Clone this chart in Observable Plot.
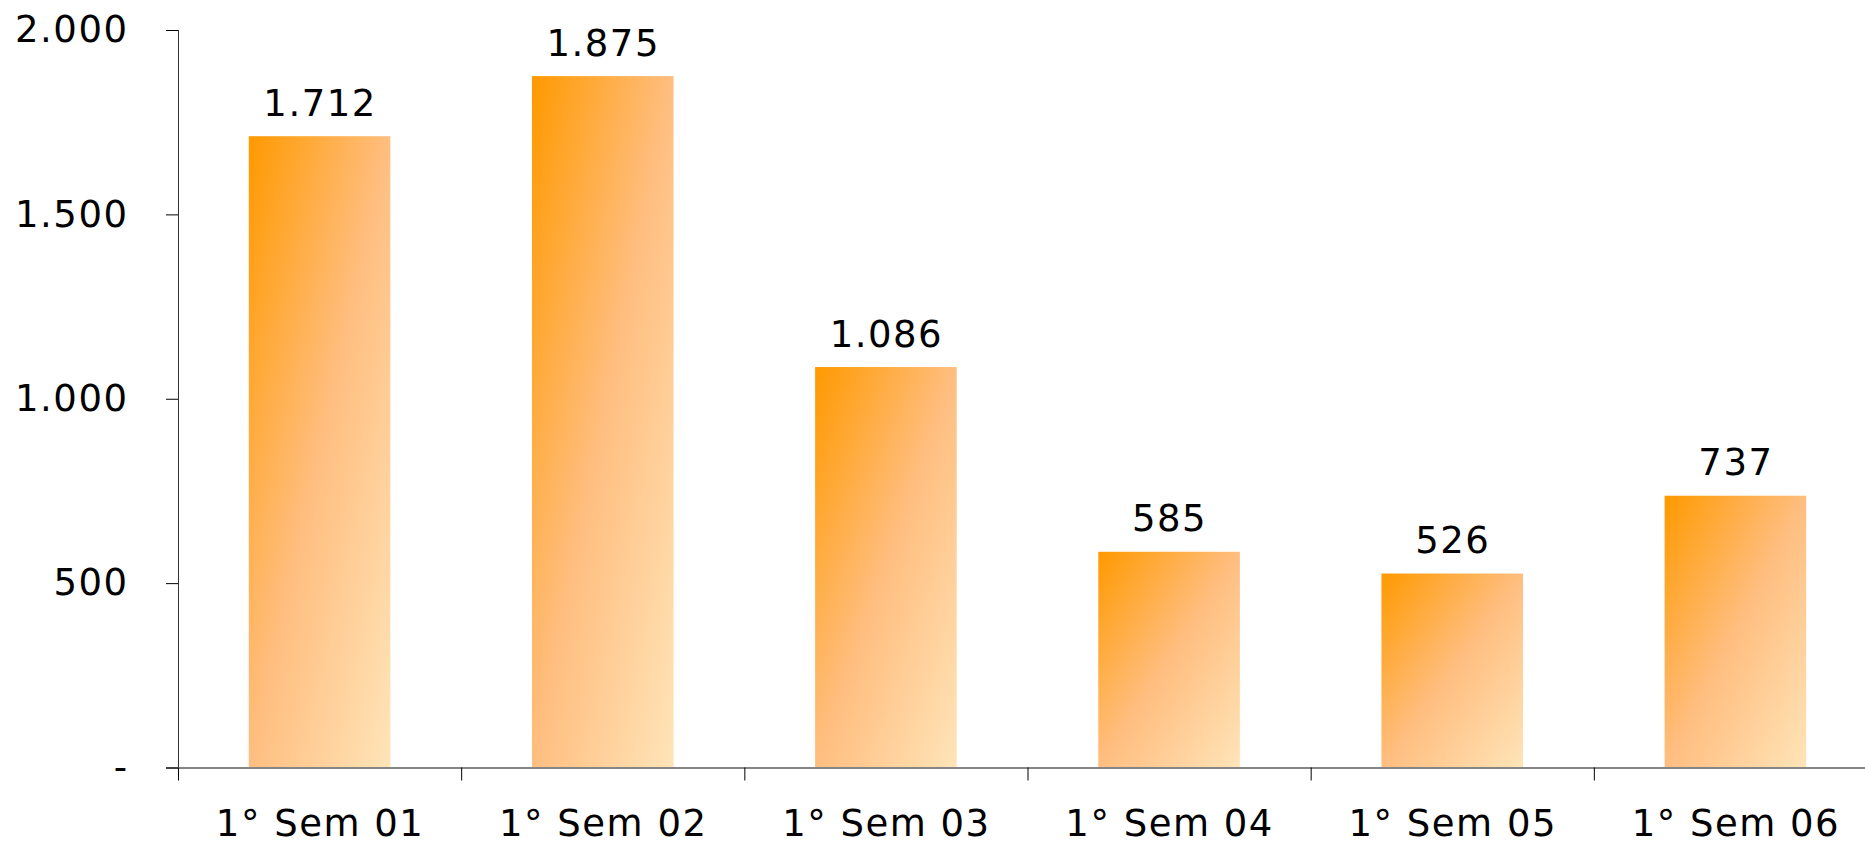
<!DOCTYPE html>
<html>
<head>
<meta charset="utf-8">
<script src="https://cdn.jsdelivr.net/npm/d3@7"></script>
<script src="https://cdn.jsdelivr.net/npm/@observablehq/plot@0.6"></script>
<style>
  html, body { margin: 0; padding: 0; overflow: hidden; background: #fff; }
  svg { display: block; max-width: none !important; }
  svg text { letter-spacing: 1.5px; }
</style>
</head>
<body>
<div id="chart"></div>
<script>
const categories = ["1° Sem 01", "1° Sem 02", "1° Sem 03", "1° Sem 04", "1° Sem 05", "1° Sem 06"];
const values = [1712, 1875, 1086, 585, 526, 737];
const yTicks = [0, 500, 1000, 1500, 2000];

const data = categories.map((c, i) => ({cat: c, value: values[i]}));
const locale = d3.formatLocale({decimal: ",", thousands: ".", grouping: [3], currency: ["", ""]});
const fmt = locale.format(",d");

const W = 1880, H = 845;
const mL = 178, mR = 3, mT = 30, mB = 77.5;
const step = (W - mL - mR) / categories.length;
const font = "DejaVu Sans, Verdana, sans-serif";

const defs = () => {
  const g = d3.create("svg:defs");
  const lg = g.append("linearGradient").attr("id", "barGrad")
    .attr("x1", 0).attr("y1", 0).attr("x2", 1).attr("y2", 1);
  lg.append("stop").attr("offset", "0%").attr("stop-color", "#FF9900");
  lg.append("stop").attr("offset", "50%").attr("stop-color", "#FFBE80");
  lg.append("stop").attr("offset", "100%").attr("stop-color", "#FFE4B8");
  return g.node();
};

const chart = Plot.plot({
  width: W, height: H,
  marginLeft: mL, marginRight: mR, marginTop: mT, marginBottom: mB,
  style: {fontFamily: font, fontSize: "37px", color: "#000", background: "#fff", maxWidth: "none"},
  x: {domain: categories, paddingInner: 0.5, paddingOuter: 0.25, round: false, axis: null},
  y: {domain: [0, 2000], axis: null},
  marks: [
    defs,
    Plot.barY(data, {x: "cat", y: "value", fill: "url(#barGrad)"}),
    Plot.ruleX([categories[0]], {dx: -step / 2, y1: 0, y2: 2000, stroke: "#333", strokeWidth: 1}),
    Plot.ruleY([0], {stroke: "#858585", strokeWidth: 2, insetLeft: -12}),
    Plot.axisY({ticks: yTicks, tickSize: 12, tickPadding: 38, stroke: "#000",
      tickFormat: d => d === 0 ? "-" : fmt(d), fontSize: 37, label: null}),
    Plot.axisX({tickSize: 13, dx: -step / 2, tickFormat: () => "", label: null, stroke: "#000"}),
    Plot.axisX({tickSize: 0, tickPadding: 42, fontSize: 37, label: null}),
    Plot.text(data, {x: "cat", y: "value", text: d => fmt(d.value), dy: -21,
      lineAnchor: "bottom", fontSize: 37, fill: "#000"})
  ]
});
document.getElementById("chart").appendChild(chart);
</script>
</body>
</html>
